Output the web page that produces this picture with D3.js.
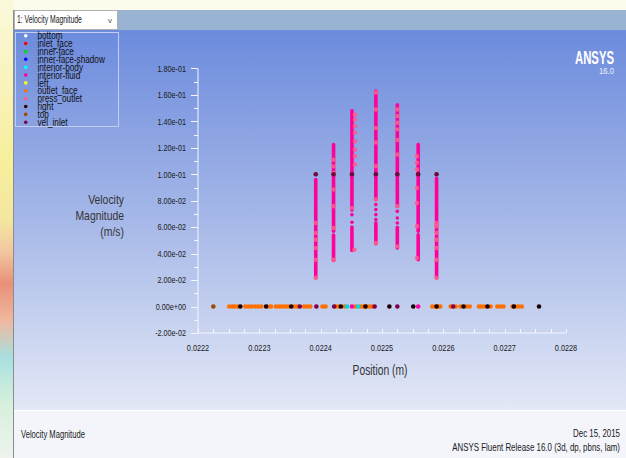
<!DOCTYPE html>
<html><head><meta charset="utf-8">
<script src="https://cdn.jsdelivr.net/npm/d3@7"></script>
<style>html,body{margin:0;padding:0;overflow:hidden;background:#fff}svg{display:block}</style>
</head><body>
<svg id="c" width="626" height="458"></svg>
<script>
// ---------------- data ----------------
const legendNames = ["bottom","inlet_face","inner-face","inner-face-shadow","interior-body","interior-fluid","left","outlet_face","press_outlet","right","top","vel_inlet"];
const legendColors = ["#ffffff","#ff0000","#00e000","#0000ff","#00ffff","#ff00a0","#ffff00","#ff7000","#ff6080","#300000","#a04a00","#800048"];

const yTickValues = [-0.02,0,0.02,0.04,0.06,0.08,0.10,0.12,0.14,0.16,0.18];
const yTickLabels = ["-2.00e-02","0.00e+00","2.00e-02","4.00e-02","6.00e-02","8.00e-02","1.00e-01","1.20e-01","1.40e-01","1.60e-01","1.80e-01"];
const xTickValues = [0.0222,0.0223,0.0224,0.0225,0.0226,0.0227,0.0228];
const xTickLabels = ["0.0222","0.0223","0.0224","0.0225","0.0226","0.0227","0.0228"];

// interior-fluid columns: x position and [vmin, vmax] runs of dense points
const fluidX = [0.022392,0.022421,0.022451,0.02249,0.022525,0.022559,0.022589];
const fluidRuns = [
  [[0.0218,0.096]],
  [[0.0349,0.054],[0.057,0.1225]],
  [[0.0424,0.0602],[0.0637,0.0637],[0.0695,0.0695],[0.073,0.148]],
  [[0.0475,0.0632],[0.0657,0.0657],[0.0695,0.0695],[0.0733,0.0733],[0.0771,0.0771],[0.0809,0.163]],
  [[0.0443,0.0600],[0.0632,0.0632],[0.067,0.067],[0.072,0.072],[0.0758,0.1525]],
  [[0.0354,0.0543],[0.057,0.1225]],
  [[0.0218,0.097]]
];
// press_outlet points [x, v]
const pressOutlet = [
  [0.022392,0.0632],[0.022392,0.0556],[0.022392,0.0506],[0.022392,0.0443],[0.022392,0.0354],[0.022392,0.0218],
  [0.022421,0.111],[0.022421,0.106],[0.022421,0.101],[0.022421,0.0885],[0.022421,0.0758],[0.022421,0.0594],[0.022421,0.0354],
  [0.022456,0.1453],[0.022456,0.1415],[0.022456,0.1364],[0.022456,0.1314],[0.022456,0.125],[0.022456,0.1188],[0.022456,0.1137],[0.022456,0.1074],[0.022451,0.0746],[0.022455,0.043],
  [0.02249,0.1618],[0.02249,0.149],[0.02249,0.135],[0.02249,0.124],[0.02249,0.1061],[0.02249,0.0809],[0.02249,0.048],
  [0.022525,0.149],[0.022525,0.144],[0.022525,0.139],[0.022525,0.134],[0.022525,0.126],[0.022525,0.115],[0.022525,0.0758],[0.022525,0.0455],
  [0.022557,0.1137],[0.022557,0.1087],[0.022557,0.1036],[0.022557,0.0897],[0.022557,0.0783],[0.022557,0.0607],[0.022557,0.0367],
  [0.022589,0.0632],[0.022589,0.0607],[0.022589,0.0556],[0.022589,0.0506],[0.022589,0.0443],[0.022589,0.0354],[0.022589,0.0218]
];
// points on the wall (velocity 0)
const outletFaceX = [0.022251,0.022256,0.02226,0.022265,0.022277,0.022282,0.022287,0.022293,0.022298,0.022303,0.022314,0.022319,0.022327,0.022332,0.022337,0.022342,0.022347,0.022357,0.022362,0.022373,0.022378,0.022383,0.022403,0.022408,0.022425,0.02243,0.022439,0.022457,0.022465,0.02247,0.022475,0.02248,0.022484,0.022582,0.022587,0.022592,0.022595,0.022612,0.02262,0.022628,0.022638,0.022643,0.022658,0.022662,0.022667,0.022677,0.022688,0.022693,0.022698,0.022713,0.022718,0.022723,0.022728];
const rightX = [0.022269,0.022311,0.022352,0.022433,0.022473,0.022512,0.022551,0.022589,0.022633,0.022672,0.022715,0.022756];
const velInletZeroX = [0.022366,0.022393,0.022422,0.022488,0.022525,0.022616];
const velInletTopV = 0.1; // vel_inlet points at each fluid column
const interiorBodyX = [0.022443,0.022461];
const fluidZeroX = [0.022451,0.022559];
const topX = [0.022225];

// ---------------- drawing ----------------
const svg = d3.select("#c");
const defs = svg.append("defs");
const FONT = "'Liberation Sans',Arial,sans-serif";

// condensed text helper (the original uses a narrow face)
function ctext(parent, x, y, str, o){
  const g = parent.append("g");
  const t = g.append("text").attr("x",0).attr("y",0)
    .attr("text-anchor",o.anchor||"start").attr("font-family",FONT)
    .attr("font-size",o.size).attr("font-weight",o.weight||"normal")
    .attr("fill",o.fill||"#1a1a1a").text(str);
  let s = o.sx || 0.8;
  if (o.width) s = o.width / t.node().getComputedTextLength();
  g.attr("transform",`translate(${x},${y}) scale(${s},1)`);
  return g;
}

const gWall = defs.append("linearGradient").attr("id","wall").attr("x1",0).attr("y1",0).attr("x2",0).attr("y2",1);
[[0,"#fbf9dc"],[0.35,"#f6ef9c"],[0.48,"#f4e7a0"],[0.55,"#f2c6a0"],[0.62,"#e99078"],[0.7,"#f0b8a0"],[0.78,"#a8e0e0"],[0.88,"#d6f0dc"],[1,"#eef3ee"]]
  .forEach(s=>gWall.append("stop").attr("offset",s[0]).attr("stop-color",s[1]));
const gPlot = defs.append("linearGradient").attr("id","plot").attr("x1",0).attr("y1",0).attr("x2",0).attr("y2",1);
[[0,"#6c8bdd"],[0.5,"#a6b8e8"],[1,"#e3e8f6"]].forEach(s=>gPlot.append("stop").attr("offset",s[0]).attr("stop-color",s[1]));

svg.append("rect").attr("x",0).attr("y",0).attr("width",626).attr("height",458).attr("fill","url(#wall)");
svg.append("rect").attr("x",14).attr("y",0).attr("width",612).attr("height",10).attr("fill","#fdfcec");
svg.append("rect").attr("x",14).attr("y",10).attr("width",612).attr("height",20).attr("fill","#99b3d3");
svg.append("rect").attr("x",14).attr("y",30).attr("width",612).attr("height",380).attr("fill","url(#plot)");
svg.append("rect").attr("x",14).attr("y",410).attr("width",612).attr("height",48).attr("fill","#f3f5fb");
svg.append("line").attr("x1",14).attr("x2",626).attr("y1",410.5).attr("y2",410.5).attr("stroke","#ffffff");
svg.append("line").attr("x1",13.5).attr("x2",13.5).attr("y1",10).attr("y2",458).attr("stroke","#8c8c8c");

// dropdown
svg.append("rect").attr("x",14.5).attr("y",10.5).attr("width",103).attr("height",19).attr("fill","#ffffff").attr("stroke","#b0b0b0");
ctext(svg,17,23,"1: Velocity Magnitude",{size:10,width:65,fill:"#202020"});
ctext(svg,108,22.5,"v",{size:8,sx:1,fill:"#505050"});

// legend
svg.append("rect").attr("x",15.5).attr("y",32.5).attr("width",103).attr("height",94).attr("fill","none").attr("stroke","#c4cff0");
const lg = svg.append("g");
legendNames.forEach((n,i)=>{
  const cy = 35.7 + i*7.87;
  lg.append("circle").attr("cx",25.7).attr("cy",cy).attr("r",1.8).attr("fill",legendColors[i]);
  ctext(lg,37.5,cy+3.6,n,{size:10.5,sx:0.78,fill:"#101010"});
});

// scales
const x = d3.scaleLinear().domain([0.0222,0.0228]).range([198,566]);
const y = d3.scaleLinear().domain([-0.02,0.18]).range([333,68.5]);

// axes (white)
const ax = svg.append("g");
ax.append("line").attr("x1",198).attr("x2",198).attr("y1",y(0.18)).attr("y2",y(-0.02)).attr("stroke","#f4f6fc");
ax.append("line").attr("x1",198).attr("x2",566).attr("y1",y(-0.02)).attr("y2",y(-0.02)).attr("stroke","#f4f6fc");
const yMinor = d3.range(0,21).map(i=>-0.02+i*0.01);
yMinor.forEach((v,i)=>{
  const major = i%2===0;
  ax.append("line").attr("x1",198).attr("x2",198-(major?7:4)).attr("y1",Math.round(y(v))+0.5).attr("y2",Math.round(y(v))+0.5).attr("stroke","#f4f6fc");
});
yTickValues.forEach((v,i)=>{
  ctext(ax,186,y(v)+3.2,yTickLabels[i],{size:9.5,sx:0.76,anchor:"end"});
});
const xMinor = d3.range(0,25).map(i=>0.0222+i*0.000025);
xMinor.forEach((v,i)=>{
  ax.append("line").attr("x1",Math.round(x(v))+0.5).attr("x2",Math.round(x(v))+0.5).attr("y1",y(-0.02)).attr("y2",y(-0.02)-4).attr("stroke","#f4f6fc");
});
xTickValues.forEach((v,i)=>{
  ctext(ax,x(v),351,xTickLabels[i],{size:9.5,sx:0.77,anchor:"middle"});
});

// titles
ctext(svg,380,375,"Position (m)",{size:14,width:55,anchor:"middle",fill:"#333"});
["Velocity","Magnitude","(m/s)"].forEach((t,i)=>ctext(svg,124,204+i*16.2,t,{size:13,sx:0.8,anchor:"end",fill:"#333"}));

// ANSYS logo
ctext(svg,614,63.5,"ANSYS",{size:17.5,weight:"bold",width:39,anchor:"end",fill:"#ffffff"});
ctext(svg,614,74,"16.0",{size:9.5,width:15,anchor:"end",fill:"#eef2fc"});

// footer
ctext(svg,21,437.5,"Velocity Magnitude",{size:10,width:64,fill:"#202020"});
ctext(svg,620,437,"Dec 15, 2015",{size:10,width:47,anchor:"end",fill:"#202020"});
ctext(svg,620,450.5,"ANSYS Fluent Release 16.0 (3d, dp, pbns, lam)",{size:10,width:168,anchor:"end",fill:"#202020"});

// data marks
const dg = svg.append("g");
const R = 2.3;
function dots(xs, v, color){
  dg.selectAll(null).data(xs).enter().append("circle")
    .attr("cx",d=>x(d)).attr("cy",y(v)).attr("r",R).attr("fill",color);
}
dots(topX,0,legendColors[10]);
dots(outletFaceX,0,legendColors[7]);
dots(interiorBodyX,0,"#00dcdc");
dots(fluidZeroX,0,legendColors[5]);
dots(velInletZeroX,0,legendColors[11]);
dots(rightX,0,"#1c0000");

// interior-fluid columns
fluidX.forEach((fx,i)=>{
  dg.selectAll(null).data(fluidRuns[i]).enter().append("line")
    .attr("x1",x(fx)).attr("x2",x(fx))
    .attr("y1",d=>y(d[0])).attr("y2",d=>y(d[1]))
    .attr("stroke","#ff0098").attr("stroke-width",3.6).attr("stroke-linecap","round");
});
dg.selectAll(null).data(pressOutlet).enter().append("circle")
  .attr("cx",d=>x(d[0])).attr("cy",d=>y(d[1])).attr("r",2.2).attr("fill","#ff5c8c").attr("opacity",0.9);
dots(fluidX, velInletTopV, "#6c0a3c");
</script>
</body></html>
